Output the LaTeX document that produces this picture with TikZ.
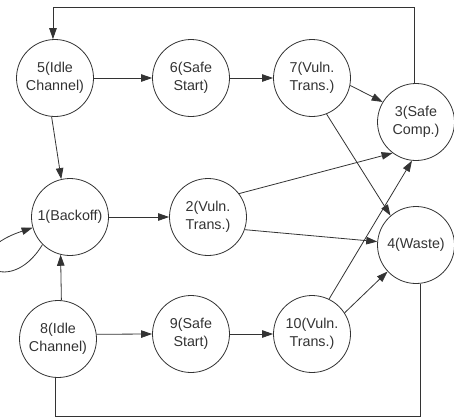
\documentclass[tikz,border=0pt]{standalone}
\usepackage{fontspec}
\setmainfont{Liberation Sans}
\usetikzlibrary{arrows.meta}
\definecolor{ink}{HTML}{333333}
\tikzset{
  state/.style={draw=ink, circle, line width=0.8pt, minimum size=77pt, inner sep=0pt,
    align=center, text=ink, font=\fontsize{14.3}{17.6}\selectfont},
  arr/.style={draw=ink, line width=0.8pt, -{Triangle[length=11pt,width=7.5pt]}},
  ln/.style={draw=ink, line width=0.8pt}
}
\begin{document}
\begin{tikzpicture}[x=1pt,y=-1pt]
\useasboundingbox (0,0) rectangle (454,418);
\node[state] (n5) at (55,78) {5(Idle\\Channel)};
\node[state] (n6) at (191,78) {6(Safe\\Start)};
\node[state] (n7) at (312,78) {7(Vuln.\\Trans.)};
\node[state] (n3) at (416,122) {3(Safe\\Comp.)};
\node[state] (n1) at (70,217) {1(Backoff)};
\node[state] (n2) at (208,217) {2(Vuln.\\Trans.)};
\node[state] (n4) at (416,245) {4(Waste)};
\node[state] (n8) at (58,339) {8(Idle\\Channel)};
\node[state] (n9) at (191,334) {9(Safe\\Start)};
\node[state] (n10) at (312,334) {10(Vuln.\\Trans.)};
\coordinate (topy) at (0,7);
\coordinate (boty) at (0,416);
% top feedback loop
\draw[arr] (n3.93) -- (n3.93 |- topy) -- (n5.93 |- topy) -- (n5.93);
% bottom line
\draw[ln] (n8.266) -- (n8.266 |- boty) -- (n4.276 |- boty) -- (n4.276);
\draw[arr] (n5) -- (n6);
\draw[arr] (n6) -- (n7);
\draw[arr] (n7.-11.6) -- (n3.149);
\draw[arr] (n7.-68) -- (n4.131);
\draw[arr] (n5.265) -- (n1.103);
\draw[arr] (n1) -- (n2);
\draw[arr] (n2.37.7) -- (n3.233.6);
\draw[arr] (n2.-19.4) -- (n4.175.5);
\draw[arr] (n8.85.5) -- (n1.256.5);
\draw[arr] (n8.7.5) -- (n9.west);
\draw[arr] (n9) -- (n10);
\draw[arr] (n10.64.6) -- (n3.264);
\draw[arr] (n10.33) -- (n4.223);
\draw[arr] (n1.225) .. controls (8,302) and (-50,255) .. (n1.196);
\end{tikzpicture}
\end{document}
